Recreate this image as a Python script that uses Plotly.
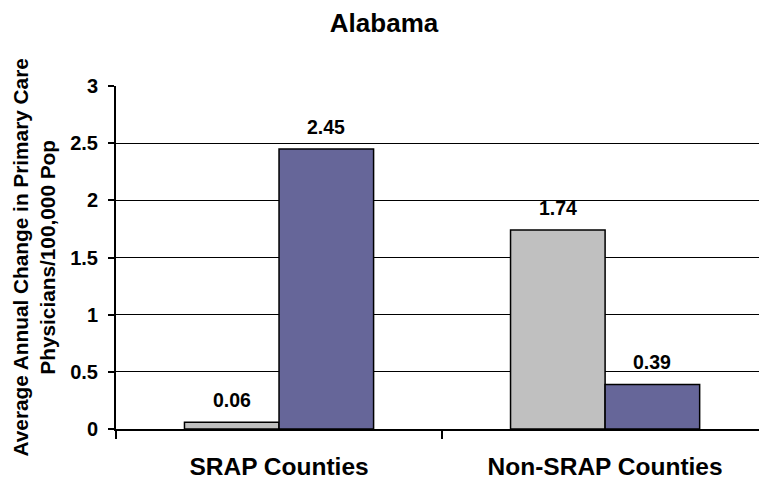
import plotly.graph_objects as go

# Data
categories = ["SRAP Counties", "Non-SRAP Counties"]
series_a = [0.06, 1.74]   # grey bars
series_b = [2.45, 0.39]   # purple bars
y_ticks = [0, 0.5, 1, 1.5, 2, 2.5, 3]
y_tick_labels = ["0", "0.5", "1", "1.5", "2", "2.5", "3"]

FONT = "Liberation Sans, Arial, sans-serif"
BARGAP = 0.42
bar_w = (1 - BARGAP) / 2


def bold(size):
    return dict(family=FONT, size=size, color="black", weight="bold")


fig = go.Figure()
fig.add_trace(go.Bar(
    x=categories, y=series_a, name="A",
    marker=dict(color="#C0C0C0", line=dict(color="black", width=1.5)),
))
fig.add_trace(go.Bar(
    x=categories, y=series_b, name="B",
    marker=dict(color="#666699", line=dict(color="black", width=1.5)),
))

# Value labels above each bar
annotations = []
for i, (a, b) in enumerate(zip(series_a, series_b)):
    for off, v in ((-bar_w / 2, a), (bar_w / 2, b)):
        annotations.append(dict(
            x=i + off, y=v, xref="x", yref="y", text=f"{v:.2f}",
            showarrow=False, yanchor="bottom", yshift=9,
            font=bold(19.5),
        ))

# Two-line rotated y-axis title
annotations.append(dict(
    x=0, y=0.5, xref="paper", yref="paper", xanchor="center", yanchor="middle",
    xshift=-83, textangle=-90, showarrow=False,
    text="Average Annual Change in Primary Care<br>Physicians/100,000 Pop",
    font=bold(20.8),
))

fig.update_layout(
    width=759, height=483,
    margin=dict(l=116, r=0, t=86, b=54),
    paper_bgcolor="white", plot_bgcolor="white",
    barmode="group", bargap=BARGAP, bargroupgap=0,
    showlegend=False,
    title=dict(text="Alabama", x=0.506, xanchor="center", y=0.952, yanchor="middle",
               font=bold(26)),
    annotations=annotations,
    font=dict(family=FONT, color="black"),
)
fig.update_xaxes(
    range=[-0.5, 1.472],
    showline=True, linecolor="black", linewidth=2,
    ticks="outside", tickson="boundaries", ticklen=8, tickwidth=2, tickcolor="black",
    tickfont=bold(24.5), ticklabelstandoff=15,
    showgrid=False,
)
fig.update_yaxes(
    range=[0, 3],
    tickvals=y_ticks, ticktext=y_tick_labels,
    showline=True, linecolor="black", linewidth=2,
    ticks="outside", ticklen=6, tickwidth=2, tickcolor="black",
    tickfont=bold(20), ticklabelstandoff=6,
    showgrid=True, gridcolor="black", gridwidth=1,
    zeroline=False,
)

fig.write_html("out.html")
